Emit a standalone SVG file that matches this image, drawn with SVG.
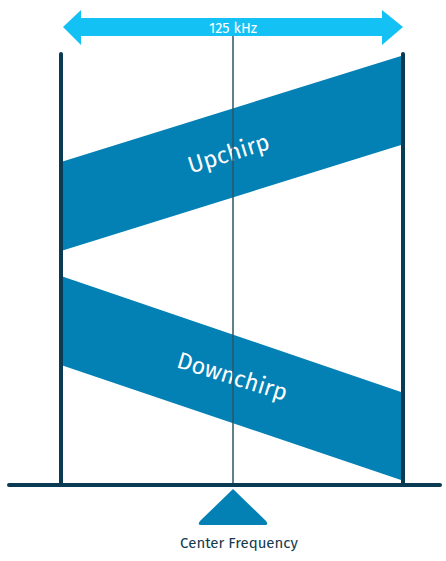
<svg xmlns="http://www.w3.org/2000/svg" width="446" height="561" viewBox="0 0 446 561">
<style>
.bar{stroke:#0b3b53;stroke-width:4;stroke-linecap:round;fill:none}
.band{fill:#0381b5}
.lbl{font-family:"Fira Sans","Noto Sans","Open Sans",sans-serif;fill:#ffffff}
</style>
<rect width="446" height="561" fill="#ffffff"/>
<g id="upchirp">
<polygon class="band" points="61,162 401,56 401,145 61,251"/>
<text class="lbl" font-size="23.5" text-anchor="middle" transform="translate(231,161) rotate(-17.3)">Upchirp</text>
</g>
<g id="downchirp">
<polygon class="band" points="61,276 401,392 401,480 61,365"/>
<text class="lbl" font-size="23.5" text-anchor="middle" transform="translate(230,384) rotate(17.3)">Downchirp</text>
</g>
<g id="connectors">
<line x1="233" y1="36" x2="233" y2="487" stroke="#2f5566" stroke-width="1.5"/>
<line class="bar" x1="61" y1="54" x2="61" y2="484"/>
<line class="bar" x1="403" y1="54" x2="403" y2="484"/>
<line class="bar" x1="9" y1="485" x2="440" y2="485"/>
</g>
<g id="bandwidth">
<polygon fill="#13c1f5" points="63,27 81,10 81,18 382,18 382,10 403,27 382,45 382,36 81,36 81,45"/>
<text class="lbl" font-size="14.5" text-anchor="middle" x="233" y="33">125 kHz</text>
</g>
<g id="center">
<path d="M233,489 L266,521 Q269,525 265,525 L201,525 Q197,525 200,521 Z" fill="#0381b5"/>
<text font-family="'Fira Sans','Noto Sans','Open Sans',sans-serif" font-size="15" fill="#123a4e" text-anchor="middle" x="239" y="548">Center Frequency</text>
</g>
</svg>
